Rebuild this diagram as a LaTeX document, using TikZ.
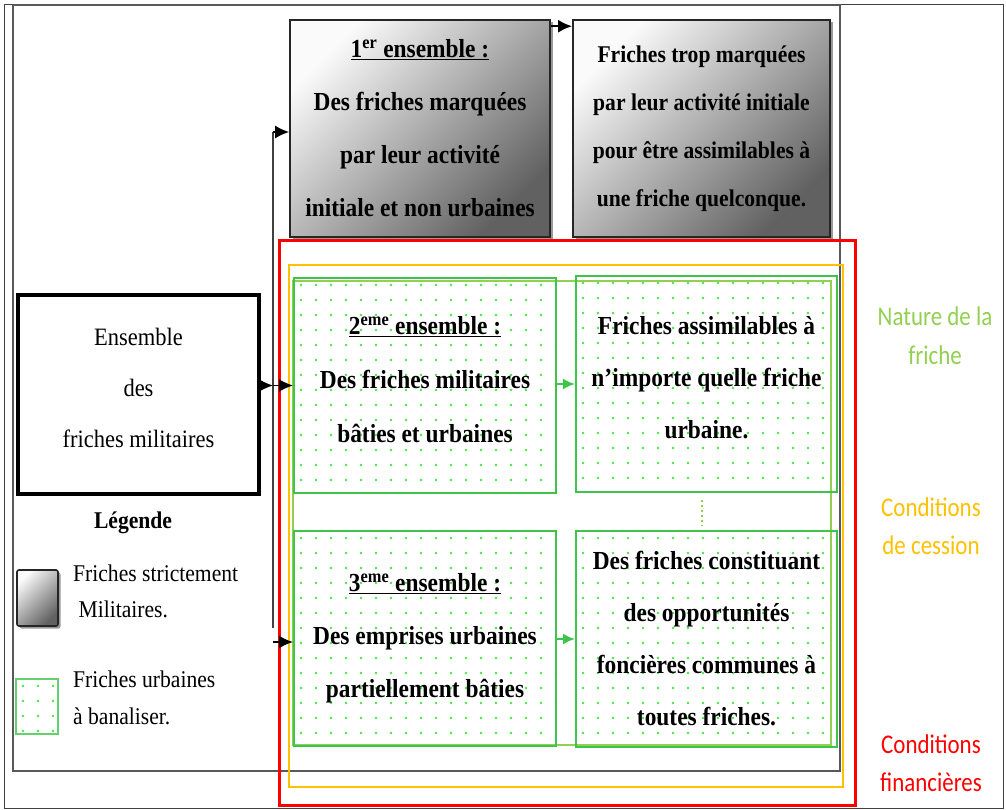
\documentclass[tikz,border=0pt]{standalone}
\usepackage{fontspec}
\setmainfont{Liberation Serif}[FakeStretch=0.9]
\newfontfamily\calib{Carlito}[FakeStretch=0.85]
\usetikzlibrary{calc,shadows,arrows.meta}
\definecolor{boxgreen}{HTML}{3DC44A}
\definecolor{dotgreen}{HTML}{3FEA3F}
\definecolor{natgreen}{HTML}{92D050}
\definecolor{condyellow}{HTML}{FFC000}
\definecolor{condred}{HTML}{FF0000}
\tikzset{
  graybox/.style={draw=black!85, line width=1.6pt, top color=black!2, bottom color=black!62, shading angle=45,
    drop shadow={shadow xshift=2.5pt, shadow yshift=-2.5pt, fill=black!50, opacity=0.8},
    align=center, inner sep=0pt},
  greendots/.style={path picture={
    \foreach \i in {0,...,18}{\foreach \j in {0,...,15}{
      \fill[dotgreen] ([xshift=\i*15pt+7pt, yshift=-\j*15pt-7pt]path picture bounding box.north west) circle[radius=1.4pt];
    }}}},
  greenbox/.style={draw=boxgreen, line width=2pt, greendots, align=center, inner sep=0pt},
  boxfont/.style={font=\bfseries\fontsize{26}{#1}\selectfont},
  arr/.style={-{Latex[length=14pt,width=13pt]}, line width=1.8pt, black},
  garr/.style={-{Latex[length=12pt,width=11pt]}, line width=2.2pt, boxgreen},
  sidelabel/.style={align=center, font=\calib\fontsize{27}{38}\selectfont},
  legtext/.style={anchor=west, align=left, font=\fontsize{24}{36}\selectfont, inner sep=0pt},
}
\begin{document}
\begin{tikzpicture}[x=1pt,y=-1pt]
\useasboundingbox (0,0) rectangle (1006,810);
% frames
\draw[black!75, line width=1pt] (4,5) rectangle (1003,808);
\draw[black!65, line width=1.6pt] (13,5) rectangle (840,771);

% top boxes
\node[graybox, boxfont=53, minimum width=260pt, minimum height=217pt] (box1) at (420,128.5)
  {\underline{1\textsuperscript{er} ensemble :}\\Des friches marquées\\par leur activité\\initiale et non urbaines};
\node[graybox, font=\bfseries\fontsize{24}{48}\selectfont, minimum width=257pt, minimum height=217pt] (box1r) at (701.5,128.5)
  {Friches trop marquées\\par leur activité initiale\\pour être assimilables à\\une friche quelconque.};

% coloured frames
\draw[condred, line width=3pt] (279,241) rectangle (855,805);
\draw[condyellow, line width=1.8pt] (289,265) rectangle (843,787);
\draw[natgreen, line width=1.5pt] (293,281) rectangle (831,745);

% green boxes
\node[greenbox, boxfont=54, minimum width=262pt, minimum height=215pt, text depth=12pt] (box2) at (425,385.5)
  {\underline{2\textsuperscript{eme} ensemble :}\\Des friches militaires\\bâties et urbaines};
\node[greenbox, boxfont=52, minimum width=261pt, minimum height=216pt, text depth=14pt] (box2r) at (706.5,384)
  {Friches assimilables à\\n’importe quelle friche\\urbaine.};
\node[greenbox, boxfont=53, minimum width=262pt, minimum height=215pt, text depth=6pt] (box3) at (425,638.5)
  {\underline{3\textsuperscript{eme} ensemble :}\\Des emprises urbaines\\partiellement bâties};
\node[greenbox, boxfont=52, minimum width=261pt, minimum height=216pt] (box3r) at (706.5,639)
  {Des friches constituant\\des opportunités\\foncières communes à\\toutes friches.};

% ensemble box
\node[draw=black, line width=3.5pt, fill=white, align=center,
  drop shadow={shadow xshift=2pt, shadow yshift=-2pt, fill=black!40}, text depth=14pt,
  minimum width=241pt, minimum height=199pt, font=\fontsize{25}{51}\selectfont] (ens) at (138.5,394.5)
  {Ensemble\\des\\friches militaires};

% connectors
\coordinate (Jtop) at (273,132);
\coordinate (J) at (273,385.5);
\coordinate (Jlow) at (273,628);
\coordinate (Jbot) at (273,642);
\draw[black!75, line width=1.6pt] (Jtop) -- (Jlow);
\draw[arr] (Jtop) -- (box1.west |- Jtop);
\draw[arr] (ens.east |- J) -- (J);
\draw[arr] (J) -- (box2.west |- J);
\draw[arr] (Jbot) -- (box3.west |- Jbot);
\draw[arr, line width=2.4pt] ([yshift=-7pt]box1.north east) -- ([yshift=-7pt]box1r.north west);
\draw[garr] (box2.east |- box2r.west) -- (box2r.west);
\draw[garr] (box3.east |- box3r.west) -- (box3r.west);
\draw[natgreen, line width=2.5pt, dash pattern=on 2pt off 3pt] ([xshift=-4.5pt, yshift=-7pt]box2r.south) -- ([xshift=-4.5pt, yshift=4pt]box3r.north);

% legend
\node[font=\bfseries\fontsize{24}{30}\selectfont] (legtitle) at (133,523) {Légende};
\node[graybox, rounded corners=2pt, minimum width=41pt, minimum height=56pt,
  drop shadow={shadow xshift=1.5pt, shadow yshift=-1.5pt, fill=black!40}] (leg1) at (37.5,598) {};
\node[legtext] (leg1t) at (73,591.5) {Friches strictement\\\ Militaires.};
\node[draw=boxgreen!80, line width=1.6pt, minimum width=42pt, minimum height=55pt, greendots, inner sep=0pt] (leg2) at (37,706.5) {};
\node[legtext, font=\fontsize{24}{37}\selectfont] (leg2t) at (73,697.5) {Friches urbaines\\à banaliser.};

% side labels
\node[sidelabel, text=natgreen, font=\calib\fontsize{27}{39}\selectfont] (nature) at (935,336) {Nature de la\\friche};
\node[sidelabel, text=condyellow] (cession) at (931,526) {Conditions\\de cession};
\node[sidelabel, text=condred] (finance) at (931,763) {Conditions\\financières};
\end{tikzpicture}
\end{document}
